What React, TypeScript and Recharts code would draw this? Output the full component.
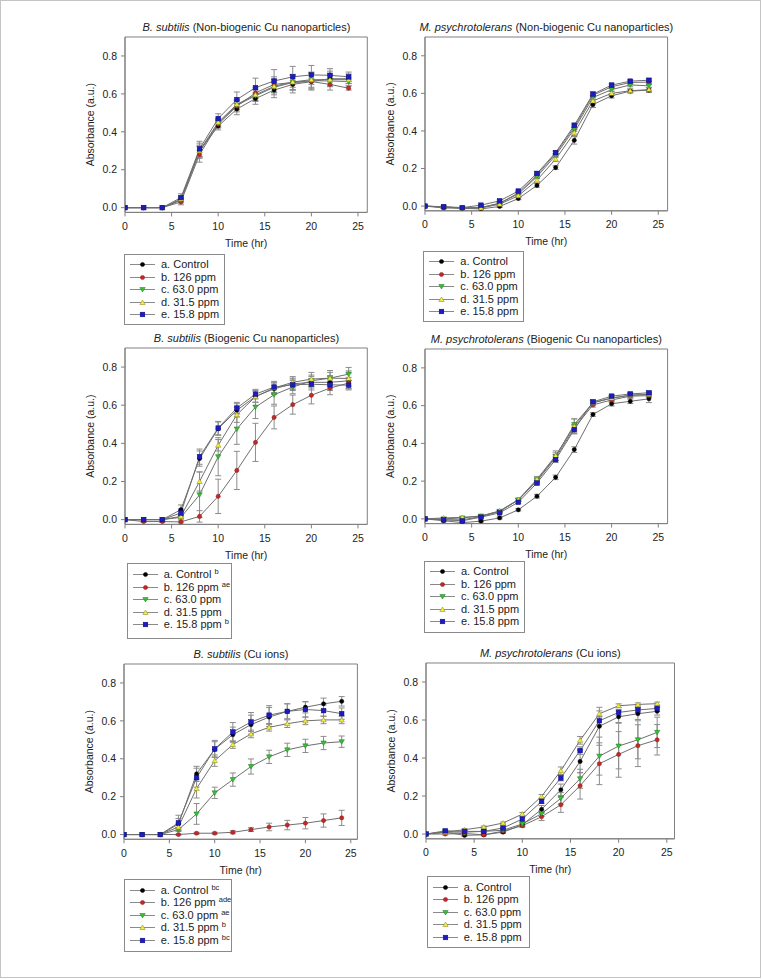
import React from 'react';
import { LineChart, Line, XAxis, YAxis, ErrorBar, ReferenceArea, Legend } from 'recharts';

const FONT = "Arial, 'Liberation Sans', Helvetica, sans-serif";

const TIME = [0, 2, 4, 6, 8, 10, 12, 14, 16, 18, 20, 22, 24];
const X_TICKS = [0, 5, 10, 15, 20, 25];
const Y_TICKS = [0, 0.2, 0.4, 0.6, 0.8];
const SERIES_KEYS = ['a', 'b', 'c', 'd', 'e'];
const LABELS = ['a. Control', 'b. 126 ppm', 'c. 63.0 ppm', 'd. 31.5 ppm', 'e. 15.8 ppm'];
const NO_SUPS = ['', '', '', '', ''];
const BS_BIO_SUPS = ['b', 'ae', '', '', 'b'];
const BS_ION_SUPS = ['bc', 'ade', 'ae', 'b', 'bc'];

// B. subtilis (Non-biogenic Cu nanoparticles)
const bsNB_a = [0, 0, 0, 0.04, 0.3, 0.43, 0.52, 0.575, 0.62, 0.65, 0.665, 0.68, 0.68];
const bsNB_b = [0, 0, 0, 0.03, 0.28, 0.44, 0.535, 0.605, 0.65, 0.66, 0.665, 0.65, 0.63];
const bsNB_c = [0, 0, 0, 0.04, 0.295, 0.445, 0.54, 0.59, 0.635, 0.66, 0.67, 0.668, 0.665];
const bsNB_d = [0, 0, 0, 0.045, 0.3, 0.45, 0.545, 0.595, 0.64, 0.663, 0.675, 0.675, 0.675];
const bsNB_e = [0, 0, 0, 0.053, 0.31, 0.47, 0.57, 0.633, 0.668, 0.69, 0.7, 0.698, 0.69];
const bsNB_aErr = [0, 0, 0, 0.015, 0.04, 0.02, 0.03, 0.03, 0.04, 0.045, 0.045, 0.04, 0.025];
const bsNB_bErr = [0, 0, 0, 0.015, 0.04, 0.02, 0.03, 0.03, 0.04, 0.04, 0.04, 0.03, 0.01];
const bsNB_cErr = [0, 0, 0, 0.01, 0.03, 0.02, 0.025, 0.03, 0.04, 0.04, 0.04, 0.03, 0.02];
const bsNB_dErr = [0, 0, 0, 0.01, 0.03, 0.02, 0.025, 0.03, 0.035, 0.04, 0.04, 0.03, 0.02];
const bsNB_eErr = [0, 0, 0, 0.02, 0.04, 0.025, 0.04, 0.05, 0.06, 0.055, 0.05, 0.035, 0.025];

// M. psychrotolerans (Non-biogenic Cu nanoparticles)
const mpNB_a = [0, -0.01, -0.012, -0.015, -0.002, 0.04, 0.11, 0.205, 0.35, 0.54, 0.587, 0.612, 0.617];
const mpNB_b = [0, -0.005, -0.01, -0.008, 0.015, 0.07, 0.165, 0.28, 0.42, 0.59, 0.635, 0.658, 0.66];
const mpNB_c = [0, -0.005, -0.01, -0.008, 0.015, 0.065, 0.156, 0.27, 0.41, 0.578, 0.62, 0.645, 0.64];
const mpNB_d = [0, -0.005, -0.01, -0.01, 0.01, 0.055, 0.138, 0.25, 0.39, 0.56, 0.6, 0.614, 0.62];
const mpNB_e = [0, -0.003, -0.008, 0.005, 0.028, 0.08, 0.174, 0.285, 0.43, 0.596, 0.644, 0.665, 0.67];
const mpNB_aErr = [0, 0.003, 0.003, 0.003, 0.005, 0.006, 0.01, 0.01, 0.02, 0.015, 0.012, 0.01, 0.012];
const mpNB_bErr = [0, 0.003, 0.003, 0.003, 0.005, 0.006, 0.01, 0.01, 0.012, 0.012, 0.01, 0.01, 0.01];
const mpNB_cErr = [0, 0.003, 0.003, 0.003, 0.005, 0.006, 0.01, 0.01, 0.012, 0.012, 0.01, 0.01, 0.01];
const mpNB_dErr = [0, 0.003, 0.003, 0.003, 0.005, 0.006, 0.01, 0.012, 0.015, 0.015, 0.012, 0.01, 0.012];
const mpNB_eErr = [0, 0.003, 0.003, 0.003, 0.005, 0.006, 0.01, 0.01, 0.012, 0.012, 0.01, 0.008, 0.008];

// B. subtilis (Biogenic Cu nanoparticles)
const bsB_a = [0, 0, 0, 0.052, 0.32, 0.477, 0.573, 0.646, 0.686, 0.712, 0.72, 0.72, 0.728];
const bsB_b = [0, -0.01, -0.01, -0.012, 0.017, 0.122, 0.258, 0.405, 0.536, 0.603, 0.652, 0.69, 0.716];
const bsB_c = [0, 0, 0, 0.012, 0.13, 0.33, 0.475, 0.59, 0.655, 0.695, 0.728, 0.742, 0.763];
const bsB_d = [0, 0, 0, 0.017, 0.2, 0.39, 0.55, 0.645, 0.69, 0.72, 0.737, 0.742, 0.74];
const bsB_e = [0, 0, 0, 0.035, 0.33, 0.48, 0.585, 0.658, 0.695, 0.707, 0.71, 0.707, 0.705];
const bsB_aErr = [0, 0, 0, 0.025, 0.04, 0.035, 0.035, 0.03, 0.03, 0.03, 0.03, 0.035, 0.04];
const bsB_bErr = [0, 0.005, 0.005, 0.005, 0.03, 0.09, 0.1, 0.1, 0.06, 0.05, 0.045, 0.035, 0.03];
const bsB_cErr = [0, 0, 0, 0.01, 0.12, 0.1, 0.08, 0.06, 0.05, 0.035, 0.03, 0.03, 0.035];
const bsB_dErr = [0, 0, 0, 0.01, 0.05, 0.03, 0.04, 0.03, 0.03, 0.03, 0.035, 0.04, 0.04];
const bsB_eErr = [0, 0, 0, 0.02, 0.04, 0.035, 0.03, 0.025, 0.03, 0.03, 0.03, 0.03, 0.025];

// M. psychrotolerans (Biogenic Cu nanoparticles)
const mpB_a = [0, -0.01, -0.02, -0.012, 0.005, 0.048, 0.12, 0.22, 0.367, 0.553, 0.61, 0.623, 0.636];
const mpB_b = [0, -0.005, -0.005, 0.012, 0.04, 0.1, 0.2, 0.325, 0.48, 0.604, 0.63, 0.65, 0.653];
const mpB_c = [0, 0, 0.005, 0.015, 0.04, 0.1, 0.205, 0.33, 0.5, 0.615, 0.64, 0.655, 0.66];
const mpB_d = [0, 0.005, 0.008, 0.015, 0.042, 0.102, 0.21, 0.335, 0.49, 0.615, 0.64, 0.655, 0.66];
const mpB_e = [0, -0.005, -0.01, 0.009, 0.032, 0.088, 0.19, 0.314, 0.473, 0.62, 0.65, 0.662, 0.668];
const mpB_aErr = [0, 0.003, 0.004, 0.004, 0.005, 0.006, 0.01, 0.012, 0.015, 0.01, 0.012, 0.012, 0.02];
const mpB_bErr = [0, 0.003, 0.003, 0.003, 0.005, 0.006, 0.01, 0.015, 0.02, 0.012, 0.012, 0.01, 0.01];
const mpB_cErr = [0, 0.003, 0.003, 0.003, 0.005, 0.008, 0.015, 0.02, 0.03, 0.012, 0.012, 0.01, 0.01];
const mpB_dErr = [0, 0.003, 0.003, 0.003, 0.005, 0.008, 0.015, 0.025, 0.04, 0.012, 0.012, 0.01, 0.01];
const mpB_eErr = [0, 0.003, 0.003, 0.003, 0.005, 0.006, 0.01, 0.015, 0.02, 0.01, 0.01, 0.008, 0.008];

// B. subtilis (Cu ions)
const bsI_a = [0, 0, 0, 0.055, 0.32, 0.45, 0.527, 0.58, 0.62, 0.65, 0.672, 0.69, 0.703];
const bsI_b = [0, 0, 0, 0, 0.007, 0.007, 0.012, 0.026, 0.04, 0.05, 0.06, 0.074, 0.088];
const bsI_c = [0, 0, 0, 0.026, 0.109, 0.22, 0.29, 0.359, 0.41, 0.447, 0.468, 0.483, 0.49];
const bsI_d = [0, 0, 0, 0.04, 0.243, 0.39, 0.475, 0.531, 0.566, 0.585, 0.6, 0.605, 0.605];
const bsI_e = [0, 0, 0, 0.062, 0.3, 0.452, 0.541, 0.594, 0.63, 0.65, 0.66, 0.654, 0.638];
const bsI_aErr = [0, 0, 0, 0.03, 0.04, 0.04, 0.04, 0.05, 0.05, 0.04, 0.03, 0.03, 0.025];
const bsI_bErr = [0, 0, 0, 0.003, 0.005, 0.005, 0.008, 0.01, 0.02, 0.025, 0.03, 0.035, 0.04];
const bsI_cErr = [0, 0, 0, 0.01, 0.055, 0.03, 0.035, 0.04, 0.035, 0.035, 0.035, 0.035, 0.03];
const bsI_dErr = [0, 0, 0, 0.02, 0.05, 0.03, 0.02, 0.02, 0.02, 0.02, 0.02, 0.02, 0.02];
const bsI_eErr = [0, 0, 0, 0.04, 0.05, 0.045, 0.05, 0.05, 0.05, 0.04, 0.04, 0.03, 0.03];

// M. psychrotolerans (Cu ions)
const mpI_a = [0, 0.01, -0.007, -0.004, 0.01, 0.049, 0.13, 0.233, 0.382, 0.567, 0.617, 0.633, 0.646];
const mpI_b = [0, 0, 0.003, -0.004, 0.015, 0.044, 0.091, 0.154, 0.254, 0.37, 0.419, 0.465, 0.496];
const mpI_c = [0, 0.01, 0.01, 0.014, 0.02, 0.053, 0.107, 0.188, 0.291, 0.41, 0.463, 0.496, 0.535];
const mpI_d = [0, 0.01, 0.023, 0.037, 0.058, 0.105, 0.198, 0.333, 0.493, 0.633, 0.675, 0.682, 0.686];
const mpI_e = [0, 0.017, 0.014, 0.014, 0.032, 0.079, 0.172, 0.295, 0.439, 0.596, 0.64, 0.653, 0.661];
const mpI_aErr = [0, 0.005, 0.005, 0.005, 0.005, 0.01, 0.02, 0.03, 0.06, 0.1, 0.03, 0.03, 0.02];
const mpI_bErr = [0, 0.005, 0.005, 0.005, 0.01, 0.01, 0.02, 0.04, 0.07, 0.11, 0.12, 0.11, 0.08];
const mpI_cErr = [0, 0.005, 0.005, 0.005, 0.01, 0.01, 0.015, 0.03, 0.05, 0.1, 0.12, 0.1, 0.08];
const mpI_dErr = [0, 0.005, 0.005, 0.005, 0.005, 0.008, 0.01, 0.02, 0.02, 0.015, 0.01, 0.008, 0.008];
const mpI_eErr = [0, 0.005, 0.005, 0.005, 0.005, 0.01, 0.01, 0.015, 0.02, 0.02, 0.015, 0.015, 0.015];

const MARKERS = [
  { shape: 'circle', fill: '#000000', stroke: '#000000' },
  { shape: 'circle', fill: '#c62828', stroke: '#8a1414' },
  { shape: 'down', fill: '#34c234', stroke: '#1a7a1a' },
  { shape: 'up', fill: '#f2ee3a', stroke: '#8a8420' },
  { shape: 'square', fill: '#1c1cc0', stroke: '#0a0a80' },
];

function Marker({ cx, cy, m }: { cx: number; cy: number; m: any }) {
  if (cx == null || cy == null || isNaN(cx) || isNaN(cy)) return null;
  if (m.shape === 'circle') {
    return <circle cx={cx} cy={cy} r={2.1} fill={m.fill} stroke={m.stroke} strokeWidth={0.5} />;
  }
  if (m.shape === 'square') {
    return <rect x={cx - 2.3} y={cy - 2.3} width={4.6} height={4.6} fill={m.fill} stroke={m.stroke} strokeWidth={0.5} />;
  }
  if (m.shape === 'down') {
    return (
      <polygon
        points={`${cx - 2.7},${cy - 2} ${cx + 2.7},${cy - 2} ${cx},${cy + 2.5}`}
        fill={m.fill}
        stroke={m.stroke}
        strokeWidth={0.5}
      />
    );
  }
  return (
    <polygon
      points={`${cx - 2.7},${cy + 2} ${cx + 2.7},${cy + 2} ${cx},${cy - 2.5}`}
      fill={m.fill}
      stroke={m.stroke}
      strokeWidth={0.5}
    />
  );
}

function LegendBox({ sups, w, h, first }: { sups: string[]; w: number; h: number; first: number }) {
  return (
    <div
      style={{
        position: 'relative',
        width: w,
        height: h,
        border: '1px solid #8a8a8a',
        boxSizing: 'border-box',
        background: '#fff',
        fontFamily: FONT,
        fontSize: 11,
        color: '#222',
      }}
    >
      {LABELS.map((lab, j) => (
        <div
          key={lab}
          style={{ position: 'absolute', left: 0, top: first - 1 + 12.5 * j - 6.5, height: 13, width: w - 2, lineHeight: '13px', whiteSpace: 'nowrap' }}
        >
          <svg width={28} height={13} style={{ position: 'absolute', left: 5, top: 0 }}>
            <line x1={0} y1={6.5} x2={25} y2={6.5} stroke="#8a8a8a" strokeWidth={1} />
            <Marker cx={12.5} cy={6.5} m={MARKERS[j]} />
          </svg>
          <span style={{ position: 'absolute', left: 36, top: 0 }}>
            {lab}
            {sups[j] ? (
              <span style={{ fontSize: 7.5, position: 'relative', top: -4, marginLeft: 3 }}>{sups[j]}</span>
            ) : null}
          </span>
        </div>
      ))}
    </div>
  );
}

type PanelProps = {
  left: number;
  top: number;
  width: number;
  height: number;
  xmax: number;
  title: React.ReactNode;
  series: number[][];
  errs: number[][];
  sups: string[];
  legend: { x: number; y: number; w: number; h: number; first: number };
};

const YMIN = -0.025;
const YMAX = 0.9;

function Panel({ left, top, width, height, xmax, title, series, errs, sups, legend }: PanelProps) {
  const ML = 60;
  const MT = 12;
  const MR = 12;
  const XH = 40;
  const data = TIME.map((t, i) => {
    const row: any = { t };
    SERIES_KEYS.forEach((k, j) => {
      row[k] = series[j][i];
      row[k + 'Err'] = errs[j][i];
    });
    return row;
  });
  const cw = ML + width + MR;
  const ch = MT + height + XH;
  const cl = left - ML;
  const ct = top - MT;
  const tickStyle = { fill: '#222', fontSize: 10.5, fontFamily: FONT };
  return (
    <>
      <div
        style={{
          position: 'absolute',
          left: left - 40,
          top: top - 16,
          width: width + 80,
          textAlign: 'center',
          fontSize: 11,
          lineHeight: '13px',
          fontFamily: FONT,
          color: '#222',
          whiteSpace: 'nowrap',
        }}
      >
        {title}
      </div>
      <div style={{ position: 'absolute', left: cl, top: ct }}>
        <LineChart width={cw} height={ch} data={data} margin={{ top: MT, right: MR, left: 0, bottom: 0 }}>
          <XAxis
            dataKey="t"
            type="number"
            domain={[0, xmax]}
            ticks={X_TICKS}
            allowDataOverflow
            height={XH}
            tickSize={4}
            tickMargin={6}
            stroke="#808080"
            tick={tickStyle}
            label={{ value: 'Time (hr)', position: 'insideBottom', offset: 5.5, fill: '#222', fontSize: 10.5, fontFamily: FONT }}
          />
          <YAxis
            type="number"
            domain={[YMIN, YMAX]}
            ticks={Y_TICKS}
            tickFormatter={(v: number) => v.toFixed(1)}
            allowDataOverflow
            width={ML}
            tickSize={4}
            tickMargin={4}
            stroke="#808080"
            tick={tickStyle}
            label={{
              value: 'Absorbance (a.u.)',
              angle: -90,
              position: 'insideLeft',
              offset: 25,
              fill: '#222',
              fontSize: 10.5,
              fontFamily: FONT,
              style: { textAnchor: 'middle' },
            }}
          />
          <ReferenceArea x1={0} x2={xmax} y1={YMIN} y2={YMAX} fill="none" fillOpacity={0} stroke="#808080" strokeWidth={1} ifOverflow="visible" />
          {SERIES_KEYS.map((k, j) => (
            <Line
              key={k}
              dataKey={k}
              name={LABELS[j]}
              stroke="#6e6e6e"
              strokeWidth={1}
              isAnimationActive={false}
              activeDot={false}
              dot={(p: any) => <Marker key={`dot-${k}-${p.index}`} cx={p.cx} cy={p.cy} m={MARKERS[j]} />}
            >
              <ErrorBar dataKey={k + 'Err'} width={3} stroke="#8c8c8c" strokeWidth={1} direction="y" isAnimationActive={false} />
            </Line>
          ))}
          <Legend
            layout="vertical"
            align="center"
            verticalAlign="middle"
            wrapperStyle={{ left: legend.x - cl, top: legend.y - ct, width: legend.w, height: legend.h, margin: 0, padding: 0 }}
            content={() => <LegendBox sups={sups} w={legend.w} h={legend.h} first={legend.first} />}
          />
        </LineChart>
      </div>
    </>
  );
}

export default function App() {
  return (
    <div
      style={{
        position: 'absolute',
        left: 0,
        top: 0,
        width: 761,
        height: 978,
        background: '#fff',
        border: '1px solid #c4c4c4',
        boxSizing: 'border-box',
        overflow: 'hidden',
      }}
    >
      <Panel
        left={124.3}
        top={36.1}
        width={242.3}
        height={175.4}
        xmax={26}
        title={<><i>B. subtilis</i> (Non-biogenic Cu nanoparticles)</>}
        series={[bsNB_a, bsNB_b, bsNB_c, bsNB_d, bsNB_e]}
        errs={[bsNB_aErr, bsNB_bErr, bsNB_cErr, bsNB_dErr, bsNB_eErr]}
        sups={NO_SUPS}
        legend={{ x: 123, y: 253, w: 101, h: 71, first: 11 }}
      />
      <Panel
        left={424}
        top={36.2}
        width={242.6}
        height={173.8}
        xmax={26}
        title={<><i>M. psychrotolerans</i> (Non-biogenic Cu nanoparticles)</>}
        series={[mpNB_a, mpNB_b, mpNB_c, mpNB_d, mpNB_e]}
        errs={[mpNB_aErr, mpNB_bErr, mpNB_cErr, mpNB_dErr, mpNB_eErr]}
        sups={NO_SUPS}
        legend={{ x: 422.3, y: 250, w: 100.4, h: 71, first: 11 }}
      />
      <Panel
        left={124.3}
        top={346.6}
        width={242.3}
        height={176.4}
        xmax={26}
        title={<><i>B. subtilis</i> (Biogenic Cu nanoparticles)</>}
        series={[bsB_a, bsB_b, bsB_c, bsB_d, bsB_e]}
        errs={[bsB_aErr, bsB_bErr, bsB_cErr, bsB_dErr, bsB_eErr]}
        sups={BS_BIO_SUPS}
        legend={{ x: 125.7, y: 562, w: 105.3, h: 76, first: 12 }}
      />
      <Panel
        left={424}
        top={348.4}
        width={242.6}
        height={174.6}
        xmax={26}
        title={<><i>M. psychrotolerans</i> (Biogenic Cu nanoparticles)</>}
        series={[mpB_a, mpB_b, mpB_c, mpB_d, mpB_e]}
        errs={[mpB_aErr, mpB_bErr, mpB_cErr, mpB_dErr, mpB_eErr]}
        sups={NO_SUPS}
        legend={{ x: 423, y: 560, w: 101, h: 72, first: 11 }}
      />
      <Panel
        left={123.3}
        top={662.7}
        width={233.4}
        height={175.3}
        xmax={25.73}
        title={<><i>B. subtilis</i> (Cu ions)</>}
        series={[bsI_a, bsI_b, bsI_c, bsI_d, bsI_e]}
        errs={[bsI_aErr, bsI_bErr, bsI_cErr, bsI_dErr, bsI_eErr]}
        sups={BS_ION_SUPS}
        legend={{ x: 122.7, y: 878.3, w: 108.3, h: 73, first: 11 }}
      />
      <Panel
        left={425}
        top={661.7}
        width={248.5}
        height={175.8}
        xmax={25.8}
        title={<><i>M. psychrotolerans</i> (Cu ions)</>}
        series={[mpI_a, mpI_b, mpI_c, mpI_d, mpI_e]}
        errs={[mpI_aErr, mpI_bErr, mpI_cErr, mpI_dErr, mpI_eErr]}
        sups={NO_SUPS}
        legend={{ x: 425.7, y: 875.5, w: 103.6, h: 72, first: 11 }}
      />
    </div>
  );
}
